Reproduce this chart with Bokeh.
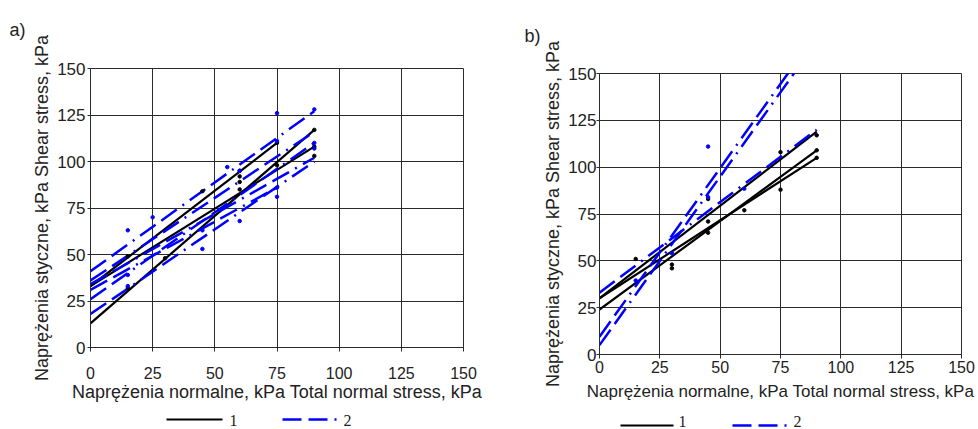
from bokeh.plotting import figure
from bokeh.layouts import row, column
from bokeh.models import Title, FixedTicker, Range1d
from bokeh.core.properties import value
from bokeh.embed import file_html
from bokeh.resources import INLINE

# ---------------- data ----------------
TICKS = [0, 25, 50, 75, 100, 125, 150]
X_TITLE = "Naprężenia normalne, kPa Total normal stress, kPa"
Y_TITLE = "Naprężenia styczne, kPa Shear stress, kPa"
LEGEND_LABELS = ["1", "2"]

# panel a) – fitted lines (start/end points) and measured points
a_black_x = [[0, 75], [0, 90], [0, 90]]
a_black_y = [[33, 110], [33, 108], [13, 117]]
a_blue_x = [[0, 90], [0, 90], [0, 90], [0, 90], [0, 90], [0, 75]]
a_blue_y = [[41, 127], [36, 116], [34, 102], [26, 110], [18, 100], [31, 86]]
a_black_pts_x = [15, 15, 30, 45, 60, 60, 60, 60, 75, 75, 90, 90, 90]
a_black_pts_y = [49, 32, 48, 84, 95, 92, 89, 85, 110, 98, 117, 108, 103]
a_blue_pts_x = [15, 15, 15, 25, 45, 45, 55, 60, 60, 75, 75, 75, 75, 90, 90, 90]
a_blue_pts_y = [63, 39, 33, 70, 63, 53, 97, 68, 95, 126, 111, 86, 81, 128, 110, 107]

# panel b)
b_black_x = [[0, 90], [0, 90], [0, 90]]
b_black_y = [[30, 119], [24, 109], [30, 105]]
b_blue_x = [[0, 90], [0, 90], [0, 90]]
b_blue_y = [[33, 120], [9.5, 171.5], [5, 167]]
b_black_pts_x = [15, 30, 30, 45, 45, 45, 60, 75, 75, 90, 90, 90]
b_black_pts_y = [51, 48, 46, 83, 71, 65, 77, 108, 88, 117, 109, 105]
b_blue_pts_x = [15, 30, 45, 45, 60]
b_blue_pts_y = [39.5, 54, 111, 84, 88.5]

BLACK = "#000000"
BLUE = "#0000ff"
GRID = "#2a2a2a"
TEXT = "#222222"
DASH = "19 7 19 7 2 7"
K_WIDTH = 2.2
B_WIDTH = 2.5


def make_panel(width, height, bl, br, bt, bb, lines_k, lines_b, pts_k, pts_b,
               ystandoff, ylab_standoff, xstandoff, xlab_standoff, xlab_size,
               tag, tag_offset, spacer_standoff):
    p = figure(width=width, height=height, output_backend="svg", toolbar_location=None,
               x_range=Range1d(0, 150), y_range=Range1d(0, 150),
               min_border_left=bl, min_border_right=br, min_border_top=bt,
               min_border_bottom=bb)
    p.background_fill_color = "white"
    p.border_fill_color = "white"
    p.outline_line_color = GRID
    p.outline_line_width = 1

    for ax in (p.xaxis[0], p.yaxis[0]):
        ax.ticker = FixedTicker(ticks=TICKS)
        ax.axis_line_color = GRID
        ax.major_tick_line_color = GRID
        ax.major_tick_in = 0
        ax.major_tick_out = 4
        ax.minor_tick_line_color = None
        ax.major_label_text_font = "Liberation Sans"
        ax.major_label_text_color = TEXT
        ax.axis_label_text_font = "Liberation Sans"
        ax.axis_label_text_font_style = "normal"
        ax.axis_label_text_font_size = "18px"
        ax.axis_label_text_color = TEXT
    p.xaxis.major_label_text_font_size = "16px"
    p.yaxis.major_label_text_font_size = "17px"
    p.xaxis.major_label_standoff = xstandoff
    p.yaxis.major_label_standoff = ystandoff
    p.yaxis.major_tick_out = 3
    p.xaxis.axis_label = X_TITLE
    p.yaxis.axis_label = Y_TITLE
    p.xaxis.axis_label_text_font_size = xlab_size
    p.xaxis.axis_label_standoff = xlab_standoff
    p.yaxis.axis_label_standoff = ylab_standoff

    p.xgrid.grid_line_color = GRID
    p.ygrid.grid_line_color = GRID
    p.xgrid.grid_line_width = 1
    p.ygrid.grid_line_width = 1

    for xs, ys in zip(*lines_k):
        p.line(xs, ys, line_color=BLACK, line_width=K_WIDTH)
    for xs, ys in zip(*lines_b):
        p.line(xs, ys, line_color=BLUE, line_width=B_WIDTH, line_dash=DASH)
    p.scatter(pts_k[0], pts_k[1], size=3.5, color=BLACK)
    p.scatter(pts_b[0], pts_b[1], size=3.5, color=BLUE)

    # panel tag as title; a white spacer title sits between it and the frame
    p.title = Title(text=tag, align="left", offset=tag_offset, standoff=0,
                    text_font="Liberation Sans", text_font_size="18px",
                    text_font_style="normal", text_color=TEXT)
    p.add_layout(Title(text=".", text_color="white", text_font_size="2px",
                       standoff=spacer_standoff), "above")
    return p


def make_legend_strip(width, height, bl, br, k_seg, b_seg, label_x, line_y, text_y):
    # x range expressed in figure-relative pixels so the frame matches the panel above
    q = figure(width=width, height=height, output_backend="svg", toolbar_location=None,
               x_range=Range1d(bl, width - br), y_range=Range1d(0, height),
               min_border_left=bl, min_border_right=br, min_border_top=0,
               min_border_bottom=0, x_axis_type=None, y_axis_type=None)
    q.grid.visible = False
    q.outline_line_color = None
    q.background_fill_color = "white"
    q.border_fill_color = "white"
    q.line(k_seg, [line_y, line_y], line_color=BLACK, line_width=K_WIDTH)
    q.line(b_seg, [line_y, line_y], line_color=BLUE, line_width=B_WIDTH, line_dash=DASH)
    q.text(label_x, [text_y, text_y], text=LEGEND_LABELS,
           text_font=value("Liberation Serif"), text_font_size="16px",
           text_color=TEXT, text_baseline="middle", text_align="left")
    return q


pa = make_panel(510, 405, 90, 47, 68, 58,
                (a_black_x, a_black_y), (a_blue_x, a_blue_y),
                (a_black_pts_x, a_black_pts_y), (a_blue_pts_x, a_blue_pts_y),
                ystandoff=2, ylab_standoff=2, xstandoff=15, xlab_standoff=0,
                xlab_size="18px", tag="a)", tag_offset=-81, spacer_standoff=26)
la = make_legend_strip(510, 24, 90, 47, [166, 222], [282, 338], [229, 343], 10, 9)

pb = make_panel(468, 410, 89, 17, 73, 56,
                (b_black_x, b_black_y), (b_blue_x, b_blue_y),
                (b_black_pts_x, b_black_pts_y), (b_blue_pts_x, b_blue_pts_y),
                ystandoff=0, ylab_standoff=2, xstandoff=2, xlab_standoff=6,
                xlab_size="17px", tag="b)", tag_offset=-75, spacer_standoff=25)
lb = make_legend_strip(468, 19, 89, 17, [110, 163], [222, 278], [168, 283], 4, 8)

layout = row(column(pa, la), column(pb, lb))
open("out.html", "w").write(file_html(layout, INLINE))
